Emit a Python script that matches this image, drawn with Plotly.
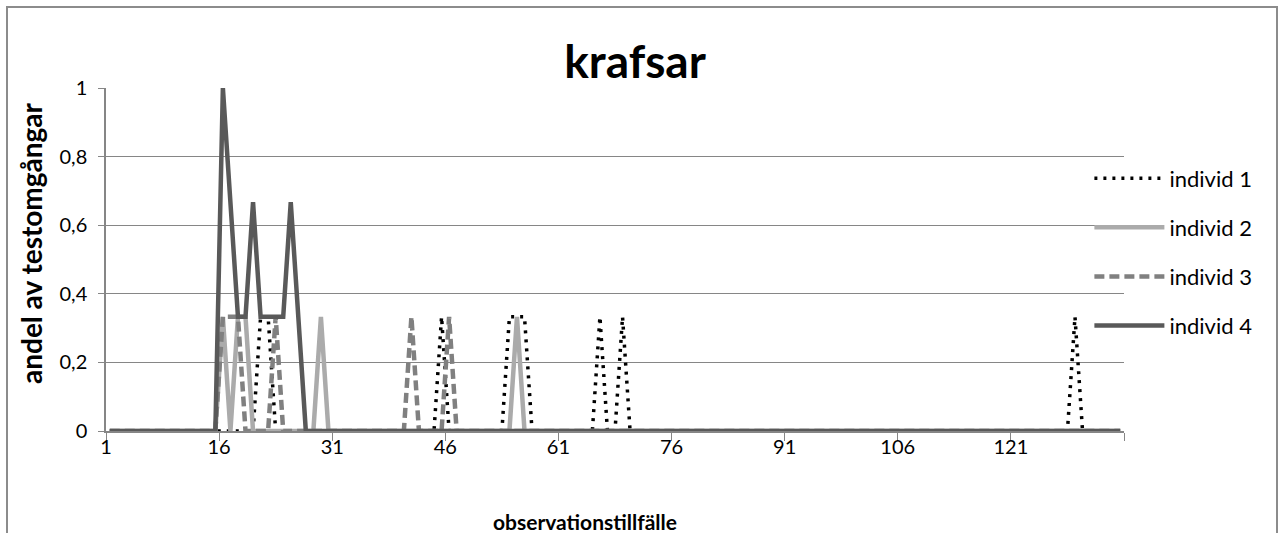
import plotly.graph_objects as go

# Observation occasions 1..135 along a category axis
categories = list(range(1, 136))

# Non-zero observations per individual (occasion, share of test rounds)
individ1_obs = [21, 22, 45, 54, 55, 56, 66, 69, 129]
individ1_val = [0.333, 0.333, 0.333, 0.333, 0.333, 0.333, 0.333, 0.333, 0.333]

individ2_obs = [16, 18, 19, 29, 55]
individ2_val = [0.333, 0.333, 0.333, 0.333, 0.333]

individ3_obs = [16, 17, 18, 23, 41, 46]
individ3_val = [0.333, 0.333, 0.333, 0.333, 0.333, 0.333]

individ4_obs = [16, 17, 18, 19, 20, 21, 22, 23, 24, 25, 26]
individ4_val = [1.0, 0.667, 0.333, 0.333, 0.667, 0.333, 0.333, 0.333, 0.333, 0.667, 0.333]

series_names = ["individ 1", "individ 2", "individ 3", "individ 4"]

# x-axis labels every 15 occasions
tick_labels = ["1", "16", "31", "46", "61", "76", "91", "106", "121", ""]
y_ticks = [0, 0.2, 0.4, 0.6, 0.8, 1.0]


def full_series(obs, vals):
    y = [0.0] * len(categories)
    for c, v in zip(obs, vals):
        y[categories.index(c)] = v
    return y


styles = [
    dict(color="#000000", width=3.5, dash="3px,6px"),
    dict(color="#ABABAB", width=4.5, dash="solid"),
    dict(color="#808080", width=4.5, dash="10px,5px"),
    dict(color="#595959", width=4.5, dash="solid"),
]

data = [
    full_series(individ1_obs, individ1_val),
    full_series(individ2_obs, individ2_val),
    full_series(individ3_obs, individ3_val),
    full_series(individ4_obs, individ4_val),
]

fig = go.Figure()
for name, y, st in zip(series_names, data, styles):
    fig.add_trace(go.Scatter(
        x=categories, y=y, name=name, mode="lines",
        line=st, legendgroup=name, hoverinfo="skip",
    ))

FONT = "Lato, Calibri, 'Open Sans', sans-serif"
GRID = "#868686"

tick_pos = [c - 0.5 for c in categories[::15]] + [categories[-1] + 0.5]

fig.update_layout(
    width=1283, height=533, autosize=False,
    margin=dict(l=106, r=159, t=88, b=102),
    paper_bgcolor="white", plot_bgcolor="white",
    separators=", ",
    font=dict(family=FONT, color="#000000"),
    title=dict(
        text="<b>krafsar</b>", font=dict(family=FONT, size=46, color="#000000"),
        x=0.495, xref="container", xanchor="center",
        y=1 - 62 / 533, yref="container", yanchor="middle",
    ),
    xaxis=dict(
        range=[0.5, categories[-1] + 0.5],
        tickmode="array", tickvals=tick_pos, ticktext=tick_labels,
        ticks="outside", ticklen=8, tickcolor=GRID, tickwidth=1,
        showline=True, linecolor=GRID, linewidth=1.5,
        showgrid=False, zeroline=False, ticklabelstandoff=-11,
        tickfont=dict(family=FONT, size=20, color="#000000"),
    ),
    yaxis=dict(
        range=[0, 1], tickmode="array", tickvals=y_ticks,
        ticks="outside", ticklen=6, tickcolor=GRID, tickwidth=1,
        showline=True, linecolor=GRID, linewidth=1.5,
        showgrid=True, gridcolor=GRID, gridwidth=1,
        zeroline=False, ticklabelstandoff=7,
        tickfont=dict(family=FONT, size=20, color="#000000"),
    ),
    legend=dict(
        x=0.966, xanchor="left", y=0.7975, yanchor="top",
        font=dict(family=FONT, size=22, color="#000000"),
        bgcolor="rgba(0,0,0,0)", tracegroupgap=17.5, itemwidth=70,
    ),
    annotations=[
        dict(text="<b>observationstillfälle</b>", xref="paper", yref="paper",
             x=(585 - 106) / 1018, y=(431 - 521) / 343,
             xanchor="center", yanchor="middle", showarrow=False,
             font=dict(family=FONT, size=21, color="#000000")),
        dict(text="<b>andel av testomgångar</b>", xref="paper", yref="paper",
             x=(31 - 106) / 1018, y=(431 - 243) / 343, textangle=-90,
             xanchor="center", yanchor="middle", showarrow=False,
             font=dict(family=FONT, size=28, color="#000000")),
    ],
    shapes=[
        dict(type="rect", xref="paper", yref="paper",
             x0=(7 - 106) / 1018, x1=(1277 - 106) / 1018,
             y0=(431 - 560) / 343, y1=(431 - 7) / 343,
             line=dict(color="#8C8C8C", width=2), fillcolor="rgba(0,0,0,0)",
             layer="below"),
    ],
)

fig.write_html("out.html")
